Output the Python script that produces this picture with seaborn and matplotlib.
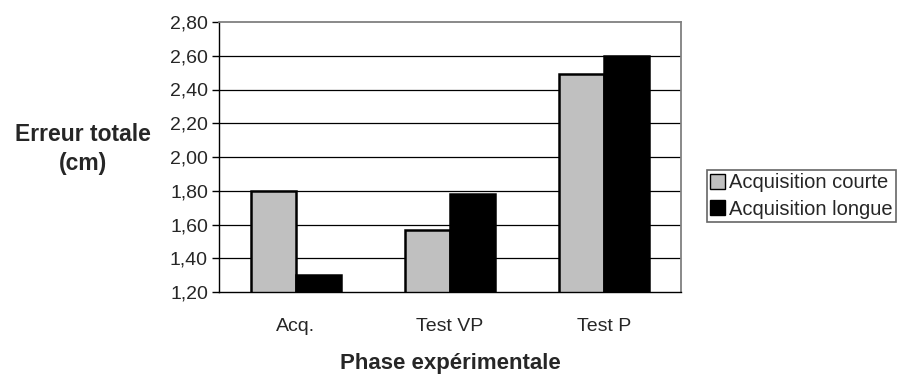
import matplotlib
matplotlib.use("Agg")
import matplotlib.pyplot as plt
import seaborn as sns
import pandas as pd

categories = ["Acq.", "Test VP", "Test P"]
courte = [1.80, 1.57, 2.49]
longue = [1.30, 1.78, 2.60]
series_names = ["Acquisition courte", "Acquisition longue"]
yticks = [1.20, 1.40, 1.60, 1.80, 2.00, 2.20, 2.40, 2.60, 2.80]

df = pd.DataFrame({
    "phase": categories * 2,
    "val": courte + longue,
    "serie": [series_names[0]] * 3 + [series_names[1]] * 3,
})

sns.set_theme(style="white")
plt.rcParams['font.family'] = ['Liberation Sans', 'DejaVu Sans']

fig = plt.figure(figsize=(9.09, 3.76), dpi=100)
ax = fig.add_axes([219/909, 1 - 292/376, (681-219)/909, (292-22)/376])

sns.barplot(data=df, x="phase", y="val", hue="serie", ax=ax,
            palette=["#c0c0c0", "#000000"], width=0.578,
            edgecolor="black", linewidth=1.8, saturation=1)

ax.set_ylim(1.20, 2.80)
ax.set_xlim(-0.5, 2.5)
ax.set_yticks(yticks)
ax.set_yticklabels([f"{v:.2f}".replace(".", ",") for v in yticks], fontsize=14)
ax.set_xticks(range(3))
ax.set_xticklabels(categories, fontsize=14)
ax.tick_params(axis="x", length=0, pad=19)
ax.set_xticks([-0.5, 0.5, 1.5, 2.5], minor=True)
ax.tick_params(axis="x", which="minor", length=5, width=1, color="black", direction="out")
ax.tick_params(axis="y", length=5, width=1, color="black", direction="out", left=True, pad=3)

for v in yticks[1:-1]:
    ax.axhline(v, color="black", linewidth=0.9, zorder=0)

for s in ["top", "right"]:
    ax.spines[s].set_color("#808080")
    ax.spines[s].set_linewidth(1.3)
for s in ["left", "bottom"]:
    ax.spines[s].set_color("black")
    ax.spines[s].set_linewidth(1.0)

ax.set_xlabel("")
ax.set_ylabel("")
fig.text(450/909, 1 - 363/376, "Phase expérimentale", ha="center", va="center",
         fontsize=16, fontweight="bold")
fig.text(83/909, 1 - 149/376, "Erreur totale\n(cm)", ha="center", va="center",
         fontsize=16.5, fontweight="bold", linespacing=1.35)

leg = ax.legend(loc="center left", bbox_to_anchor=(707/909, 1 - 196/376),
                bbox_transform=fig.transFigure, frameon=True, fancybox=False,
                fontsize=14.5, handlelength=0.75, handleheight=0.75, handletextpad=0.2,
                borderpad=0.15, labelspacing=0.35, borderaxespad=0)
leg.get_frame().set_edgecolor("#404040")
leg.get_frame().set_linewidth(1.2)
for h in leg.legend_handles:
    h.set_edgecolor("black")
    h.set_linewidth(1.0)

fig.savefig("out.png", dpi=100)
